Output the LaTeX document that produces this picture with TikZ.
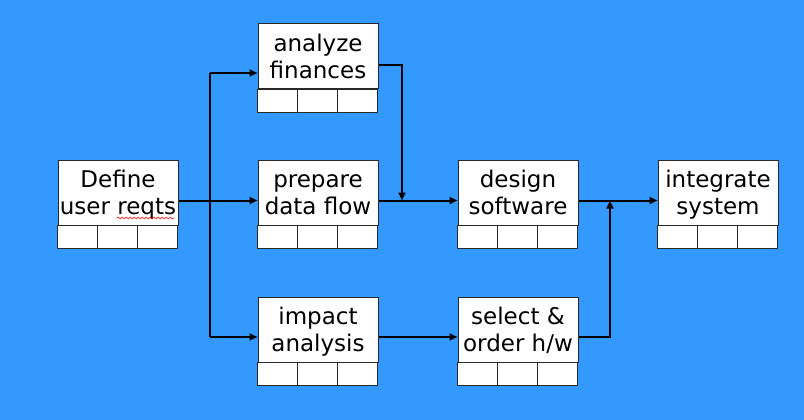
\documentclass[tikz,border=0pt]{standalone}
\usepackage{fontspec}
\setmainfont{DejaVu Sans}
\usetikzlibrary{arrows.meta,decorations.pathmorphing}
\definecolor{bgblue}{RGB}{51,153,255}
\definecolor{boxline}{RGB}{40,40,40}
\newcommand\twolines[2]{\vphantom{d}#1\\\raisebox{0pt}[\height][0pt]{#2}}
\begin{document}
\begin{tikzpicture}[x=1pt,y=-1pt,
  taskbox/.style={draw=boxline,fill=white,line width=1pt,minimum width=120pt,minimum height=65pt,
    inner sep=0pt,align=center,font=\fontsize{23}{27}\selectfont},
  cellbox/.style={draw=boxline,fill=white,line width=1pt},
  flow/.style={line width=2pt,black},
  arr/.style={flow,-{Triangle[length=8pt,width=7pt]}}]
\fill[bgblue] (0,0) rectangle (804,420);
\useasboundingbox (0,0) rectangle (804,420);
% boxes
\node[taskbox] (def)  at (118,192.5) {\twolines{Define}{user reqts}};
\node[taskbox] (ana)  at (318,56.5)  {\twolines{analyze}{finances}};
\node[taskbox] (prep) at (318,192.5) {\twolines{prepare}{data flow}};
\node[taskbox] (imp)  at (318,329.5) {\twolines{impact}{analysis}};
\node[taskbox] (des)  at (518,192.5) {\twolines{design}{software}};
\node[taskbox] (sel)  at (518,329.5) {\twolines{select \&}{order h/w}};
\node[taskbox] (int)  at (718,192.5) {\twolines{integrate}{system}};
\foreach \n in {def,ana,prep,imp,des,sel,int}{
  \draw[cellbox] (\n.south west) rectangle ++(120,23);
  \draw[cellbox] (\n.south west) ++(40,0) -- ++(0,23);
  \draw[cellbox] (\n.south west) ++(80,0) -- ++(0,23);
}
% spell-check squiggle
\draw[red,line width=0.7pt,decorate,decoration={snake,segment length=4pt,amplitude=1pt}] (117,218) -- (174,218);
% connector levels
\coordinate (ya) at (0,73);
\coordinate (yao) at (0,65);
\coordinate (ym) at (0,200.5);
\coordinate (yb) at (0,337);
\coordinate (xs) at (210,0);
\coordinate (xd) at (402,0);
\coordinate (xu) at (610,0);
% connectors
\draw[arr] (def.east |- ym) -- (prep.west |- ym);
\draw[flow] (xs |- ya) -- (xs |- yb);
\draw[arr] (xs |- ya) -- (ana.west |- ya);
\draw[arr] (xs |- yb) -- (imp.west |- yb);
\draw[arr] (ana.east |- yao) -- (xd |- yao) -- (xd |- ym);
\draw[arr] (prep.east |- ym) -- (des.west |- ym);
\draw[arr] (des.east |- ym) -- (int.west |- ym);
\draw[arr] (imp.east |- yb) -- (sel.west |- yb);
\draw[arr] (sel.east |- yb) -- (xu |- yb) -- (xu |- ym);
\end{tikzpicture}
\end{document}
